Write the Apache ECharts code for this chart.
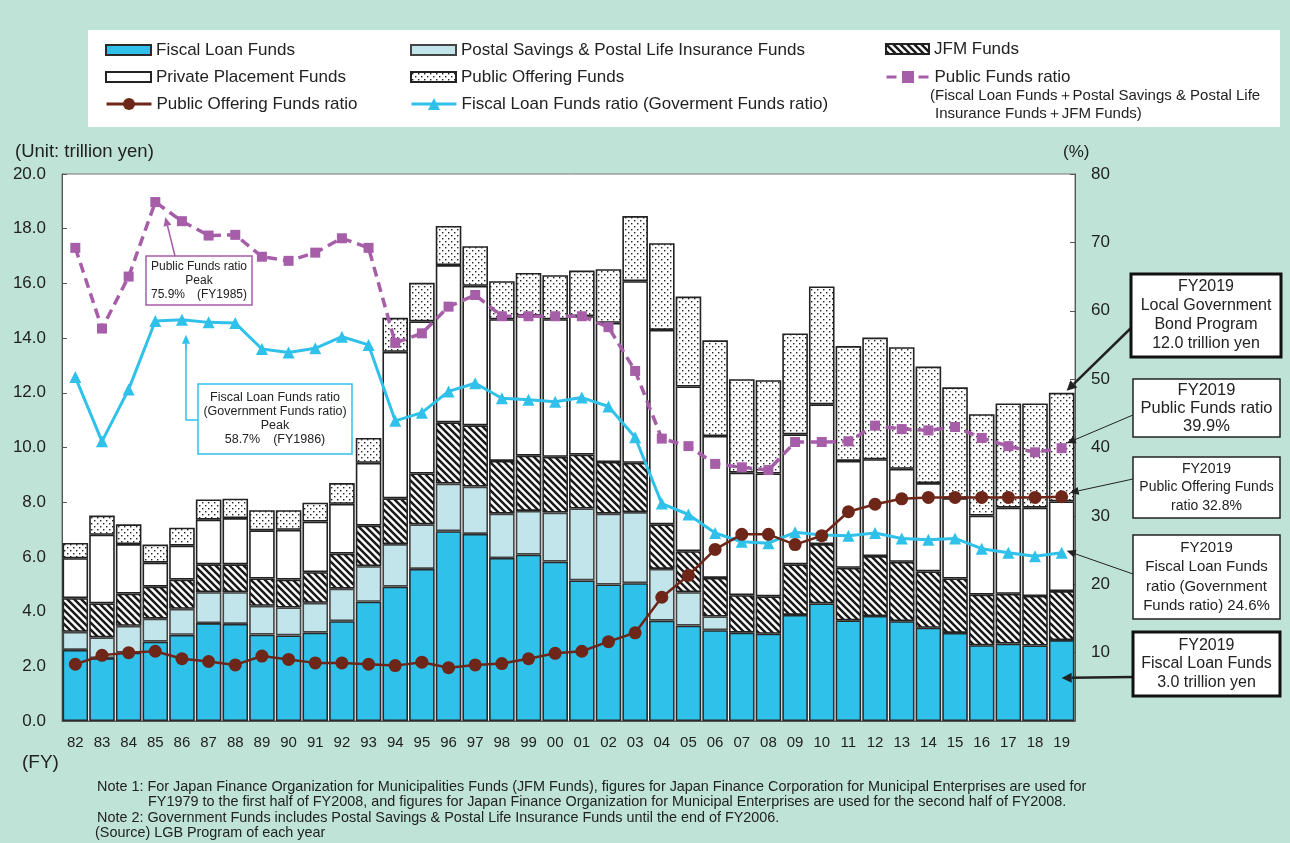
<!DOCTYPE html>
<html><head><meta charset="utf-8">
<script src="https://cdn.jsdelivr.net/npm/echarts@6/dist/echarts.min.js"></script>
<style>html,body{margin:0;padding:0;background:#bfe3d7;} #c{width:1290px;height:843px;}</style>
</head><body><div id="c"></div>
<script>
// ---------- DATA ----------
const years = ['82','83','84','85','86','87','88','89','90','91','92','93','94','95','96','97','98','99','00','01','02','03','04','05','06','07','08','09','10','11','12','13','14','15','16','17','18','19'];
// trillion yen
const fiscalLoan =       [2.60,2.30,2.50,2.90,3.15,3.58,3.55,3.16,3.13,3.23,3.65,4.36,4.91,5.56,6.94,6.84,5.96,6.08,5.83,5.14,4.99,5.04,3.67,3.49,3.32,3.23,3.19,3.88,4.30,3.68,3.84,3.65,3.41,3.22,2.77,2.83,2.76,2.96];
const postal =           [0.66,0.76,0.98,0.84,0.95,1.13,1.16,1.05,1.02,1.09,1.19,1.30,1.56,1.63,1.74,1.73,1.62,1.60,1.79,2.63,2.59,2.60,1.89,1.22,0.50,null,null,null,null,null,null,null,null,null,null,null,null,null];
const jfm =              [1.23,1.24,1.18,1.17,1.07,1.02,1.02,1.00,1.02,1.12,1.28,1.48,1.67,1.86,2.24,2.24,1.93,2.02,2.04,1.97,1.89,1.80,1.63,1.50,1.41,1.37,1.37,1.85,2.17,1.92,2.19,2.17,2.06,1.99,1.85,1.82,1.81,1.79];
const privatePlacement = [1.46,2.51,1.81,0.88,1.24,1.63,1.69,1.76,1.82,1.85,1.82,2.30,5.36,5.56,5.75,5.10,5.18,5.12,5.03,5.06,5.09,6.64,7.11,6.02,5.19,4.48,4.49,4.75,5.11,3.91,3.54,3.40,3.23,2.94,2.89,3.15,3.23,3.28];
const publicOffering =   [0.56,0.70,0.72,0.66,0.66,0.74,0.71,0.74,0.72,0.69,0.76,0.91,1.24,1.41,1.43,1.45,1.39,1.56,1.61,1.67,1.96,2.38,3.17,3.29,3.50,3.42,3.41,3.69,4.31,4.20,4.45,4.45,4.26,4.05,3.71,3.81,3.81,3.97];
// %
const publicFundsRatio =    [69.2,57.4,65.0,75.9,73.1,71.0,71.1,67.9,67.3,68.5,70.6,69.2,55.3,56.7,60.6,62.3,59.2,59.2,59.2,59.2,57.6,51.2,41.3,40.2,37.6,37.1,36.7,40.8,40.8,40.9,43.2,42.7,42.5,43.0,41.4,40.2,39.3,39.9];
const fiscalLoanRatio =     [50.3,40.9,48.5,58.5,58.7,58.3,58.2,54.4,53.9,54.5,56.2,55.0,43.9,45.1,48.2,49.4,47.2,47.0,46.7,47.3,46.0,41.5,31.8,30.2,27.5,26.2,26.0,27.6,27.2,27.1,27.5,26.7,26.5,26.7,25.2,24.6,24.1,24.6];
const publicOfferingRatio = [8.3,9.6,10.0,10.2,9.1,8.7,8.2,9.5,9.0,8.5,8.5,8.3,8.1,8.6,7.8,8.2,8.4,9.1,9.9,10.2,11.6,12.9,18.1,21.3,25.1,27.3,27.3,25.8,27.1,30.6,31.7,32.5,32.7,32.7,32.7,32.7,32.7,32.8];
const leftTicks = {min:0, max:20, interval:2};
const rightTicks = {min:0, max:80, interval:10};

// ---------- STYLE ----------
const FONT = '"Liberation Sans", Arial, sans-serif';
const C_FISCAL = '#2fc1e9', C_POSTAL = '#c2e5eb', C_PURPLE = '#a65ea9', C_BROWN = '#6e2619';

function hatchPattern(){
  const s = 7, c = document.createElement('canvas'); c.width = s; c.height = s;
  const g = c.getContext('2d');
  g.fillStyle = '#fff'; g.fillRect(0,0,s,s);
  g.strokeStyle = '#1a1a1a'; g.lineWidth = 2.5;
  g.beginPath();
  g.moveTo(-2,-2); g.lineTo(s+2,s+2);
  g.moveTo(-2,s-2); g.lineTo(2,s+2);
  g.moveTo(s-2,-2); g.lineTo(s+2,2);
  g.stroke();
  return c;
}
function dotPattern(){
  const s = 6, c = document.createElement('canvas'); c.width = s; c.height = s;
  const g = c.getContext('2d');
  g.fillStyle = '#fff'; g.fillRect(0,0,s,s);
  g.fillStyle = '#222';
  g.fillRect(1,1,1.4,1.4); g.fillRect(4,4,1.4,1.4);
  return c;
}

const chart = echarts.init(document.getElementById('c'), null, {renderer:'canvas', width:1290, height:843});
const barBase = {type:'bar', stack:'total', yAxisIndex:0, barCategoryGap:'4%', emphasis:{disabled:true}};
function leg(name, left, rowCenter, isLine, w){
  return {left, top:rowCenter - 8.5, padding:0, orient:'horizontal', selectedMode:false,
    itemWidth:w || 45, itemHeight:isLine ? 15 : 10, icon:isLine ? undefined : 'rect',
    lineStyle:{width:3}, data:[name],
    textStyle:{fontSize:17, color:'#222', fontFamily:FONT, lineHeight:17}};
}

chart.setOption({
  animation:false,
  backgroundColor:'#bfe3d7',
  textStyle:{fontFamily:FONT},
  grid:{left:62, right:215, top:174, bottom:122, show:true, backgroundColor:'#fff', borderColor:'#777', borderWidth:1},
  legend:[
    leg('Fiscal Loan Funds', 105, 50, false),
    leg('Private Placement Funds', 105, 77, false),
    leg('Public Offering Funds ratio', 105, 104, true),
    leg('Postal Savings & Postal Life Insurance Funds', 410, 50, false),
    leg('Public Offering Funds', 410, 77, false),
    leg('Fiscal Loan Funds ratio (Goverment Funds ratio)', 410, 104, true),
    leg('JFM Funds', 885, 49, false, 43),
    leg('Public Funds ratio', 885, 77, true, 43)
  ],
  xAxis:{type:'category', data:years, axisTick:{show:false},
    axisLine:{lineStyle:{color:'#555', width:1}},
    axisLabel:{fontSize:15, color:'#222', margin:14, interval:0}},
  yAxis:[
    Object.assign({type:'value', position:'left', splitLine:{show:false},
      axisLine:{show:true, lineStyle:{color:'#555'}}, axisTick:{show:true, inside:true, length:5, lineStyle:{color:'#555'}},
      axisLabel:{fontSize:17, color:'#222', margin:16, formatter:v=>v.toFixed(1)}}, leftTicks),
    Object.assign({type:'value', position:'right', splitLine:{show:false},
      axisLine:{show:true, lineStyle:{color:'#555'}}, axisTick:{show:true, inside:true, length:5, lineStyle:{color:'#555'}},
      axisLabel:{fontSize:17, color:'#222', margin:16, showMinLabel:false}}, rightTicks)
  ],
  series:[
    Object.assign({name:'Fiscal Loan Funds', data:fiscalLoan, itemStyle:{color:C_FISCAL, borderColor:'#2a2a2a', borderWidth:1.6}}, barBase),
    Object.assign({name:'Postal Savings & Postal Life Insurance Funds', data:postal, itemStyle:{color:C_POSTAL, borderColor:'#444', borderWidth:1.6}}, barBase),
    Object.assign({name:'JFM Funds', data:jfm, itemStyle:{color:{image:hatchPattern(), repeat:'repeat'}, borderColor:'#222', borderWidth:1.6}}, barBase),
    Object.assign({name:'Private Placement Funds', data:privatePlacement, itemStyle:{color:'#fff', borderColor:'#222', borderWidth:1.6}}, barBase),
    Object.assign({name:'Public Offering Funds', data:publicOffering, itemStyle:{color:{image:dotPattern(), repeat:'repeat'}, borderColor:'#222', borderWidth:1.6}}, barBase),
    {type:'line', name:'Public Funds ratio', yAxisIndex:1, data:publicFundsRatio, symbol:'rect', symbolSize:10, showAllSymbol:true,
      lineStyle:{color:C_PURPLE, width:3.5, type:[10,6]}, itemStyle:{color:C_PURPLE}, emphasis:{disabled:true}, z:3},
    {type:'line', name:'Fiscal Loan Funds ratio (Goverment Funds ratio)', yAxisIndex:1, data:fiscalLoanRatio, symbol:'triangle', symbolSize:12, showAllSymbol:true,
      lineStyle:{color:C_FISCAL, width:3}, itemStyle:{color:C_FISCAL}, emphasis:{disabled:true}, z:4},
    {type:'line', name:'Public Offering Funds ratio', yAxisIndex:1, data:publicOfferingRatio, symbol:'circle', symbolSize:13, showAllSymbol:true,
      lineStyle:{color:C_BROWN, width:2.5}, itemStyle:{color:C_BROWN}, emphasis:{disabled:true}, z:5}
  ]
});

// ---------- ANNOTATIONS ----------
function px(idx, val, axis){ return chart.convertToPixel({xAxisIndex:0, yAxisIndex:axis}, [idx, val]); }
function arrow(x1,y1,x2,y2,color,width,hl,hw){
  const a = Math.atan2(y2-y1, x2-x1), ca = Math.cos(a), sa = Math.sin(a);
  const bx = x2 - hl*ca, by = y2 - hl*sa;
  return [
    {type:'line', shape:{x1, y1, x2:bx, y2:by}, style:{stroke:color, lineWidth:width}, z:20},
    {type:'polygon', shape:{points:[[x2,y2],[bx - hw*sa, by + hw*ca],[bx + hw*sa, by - hw*ca]]}, style:{fill:color}, z:20}
  ];
}
function box(x,y,w,h,border,bw,text,fs,lh){
  return [
    {type:'rect', shape:{x, y, width:w, height:h}, style:{fill:'#fff', stroke:border, lineWidth:bw}, z:20},
    {type:'text', x:x+w/2, y:y+h/2, style:{text, fill:'#222', font:fs+'px '+FONT, textAlign:'center', textVerticalAlign:'middle', lineHeight:lh}, z:21}
  ];
}
function txt(x,y,text,fs,align){
  return {type:'text', x, y, style:{text, fill:'#222', font:fs+'px '+FONT, textAlign:align||'left', textVerticalAlign:'middle'}, z:21};
}

const last = years.length - 1;
const i85 = years.indexOf('85'), i86 = years.indexOf('86');
const totalLast = fiscalLoan[last] + jfm[last] + privatePlacement[last] + publicOffering[last];
const pPF85 = px(i85, publicFundsRatio[i85], 1);
const pFL86 = px(i86, fiscalLoanRatio[i86], 1);
const pTop = px(last, totalLast, 0);
const pPF = px(last, publicFundsRatio[last], 1);
const pPO = px(last, publicOfferingRatio[last], 1);
const pFL = px(last, fiscalLoanRatio[last], 1);
const pFiscal = px(last, fiscalLoan[last]/2, 0);

let g = [];
g.push({type:'rect', shape:{x:88, y:30, width:1192, height:97}, style:{fill:'#fff'}, z:-5});
g.push(txt(930, 96, '(Fiscal Loan Funds＋Postal Savings & Postal Life', 15));
g.push(txt(935, 114, 'Insurance Funds＋JFM Funds)', 15));
g.push(txt(15, 152, '(Unit: trillion yen)', 18.5));
g.push(txt(1063, 152, '(%)', 17));
g.push(txt(22, 763, '(FY)', 19));
g.push(txt(97, 787, 'Note 1: For Japan Finance Organization for Municipalities Funds (JFM Funds), figures for Japan Finance Corporation for Municipal Enterprises are used for', 14.4));
g.push(txt(148, 802, 'FY1979 to the first half of FY2008, and figures for Japan Finance Organization for Municipal Enterprises are used for the second half of FY2008.', 14.4));
g.push(txt(97, 818, 'Note 2: Government Funds includes Postal Savings & Postal Life Insurance Funds until the end of FY2006.', 14.4));
g.push(txt(95, 833, '(Source) LGB Program of each year', 14.4));

// Peak annotations
g.push(...arrow(175, 256, pPF85[0] + 10, pPF85[1] + 15, C_PURPLE, 1.5, 9, 4));
g.push(...box(146, 256, 106, 49, C_PURPLE, 1.5, 'Public Funds ratio\nPeak\n75.9%　(FY1985)', 12, 14.3));
g.push({type:'polyline', shape:{points:[[198,420],[pFL86[0]+4,420],[pFL86[0]+4, pFL86[1]+24]]}, style:{stroke:C_FISCAL, lineWidth:1.5, fill:null}, z:20});
g.push(...arrow(pFL86[0]+4, pFL86[1]+30, pFL86[0]+4, pFL86[1]+15, C_FISCAL, 1.5, 9, 4));
g.push(...box(198, 384, 154, 70, C_FISCAL, 1.5, 'Fiscal Loan Funds ratio\n(Government Funds ratio)\nPeak\n58.7%　(FY1986)', 12.5, 14));

// FY2019 call-outs
g.push(...arrow(1131, 328, pTop[0] + 5, pTop[1] - 2, '#222', 2.5, 10, 5));
g.push(...box(1131, 274, 150, 83, '#111', 3, 'FY2019\nLocal Government\nBond Program\n12.0 trillion yen', 16, 19));
g.push(...arrow(1133, 415, pPF[0] + 5, pPF[1] - 5, '#222', 1, 9, 4));
g.push(...box(1133, 379, 147, 58, '#222', 1.5, 'FY2019\nPublic Funds ratio\n39.9%', 16.5, 18));
g.push(...arrow(1133, 479, pPO[0] + 8, pPO[1] - 4, '#222', 1, 9, 4));
g.push(...box(1133, 457, 147, 61, '#222', 1.5, 'FY2019\nPublic Offering Funds\nratio 32.8%', 14, 18.5));
g.push(...arrow(1133, 574, pFL[0] + 5, pFL[1] - 2, '#222', 1, 9, 4));
g.push(...box(1133, 535, 147, 84, '#222', 1.5, 'FY2019\nFiscal Loan Funds\nratio (Government\nFunds ratio) 24.6%', 15, 19.5));
g.push(...arrow(1133, 677, pFiscal[0], 678, '#222', 2.5, 10, 5));
g.push(...box(1133, 632, 147, 64, '#111', 3, 'FY2019\nFiscal Loan Funds\n3.0 trillion yen', 16, 18.5));

chart.setOption({graphic:g});
</script></body></html>
